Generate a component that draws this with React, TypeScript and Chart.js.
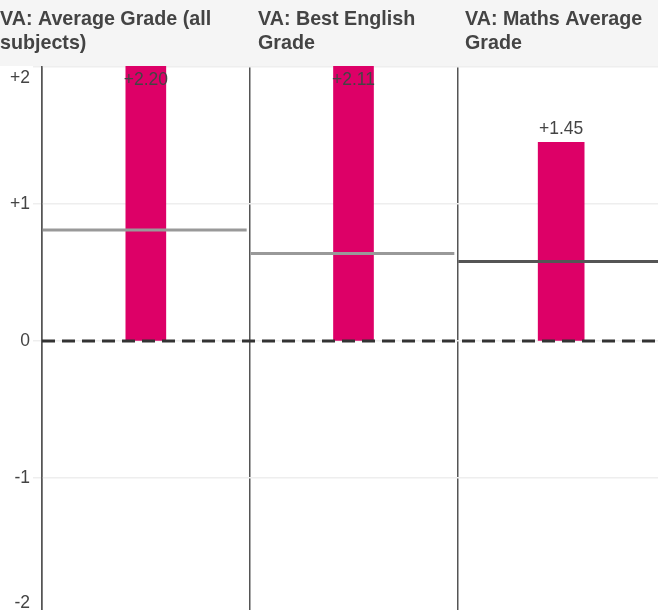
import { useEffect, useRef } from "react";
import { Chart, registerables } from "chart.js";

Chart.register(...registerables);

// ---- data ----
const categories = [
  "VA: Average Grade (all subjects)",
  "VA: Best English Grade",
  "VA: Maths Average Grade",
];
const titleLines = [
  ["VA: Average Grade (all", "subjects)"],
  ["VA: Best English", "Grade"],
  ["VA: Maths Average", "Grade"],
];
const schoolValues = [2.2, 2.11, 1.45];
const comparisonValues = [0.81, 0.64, 0.58];
const yTicks = [-2, -1, 0, 1, 2];

// ---- style ----
const FONT = '"Liberation Sans", Arial, Helvetica, sans-serif';
const HEADER_H = 66;
const BAR_COLOR = "#dd0067";
const TEXT_COLOR = "#444";
const barWidths = [40, 40, 46];
const lineColors = ["#999", "#999", "#555"];
const titleX = [0, 258, 465];

const fmt = (v: number) => (v > 0 ? "+" : "") + (v === 0 ? "0" : Number.isInteger(v) ? String(v) : v.toFixed(2));

export default function App() {
  const ref = useRef<HTMLCanvasElement>(null);

  useEffect(() => {
    const canvas = ref.current!;
    const plugin = {
      id: "vaCustom",
      beforeDatasetsDraw(chart: any) {
        const meta = chart.getDatasetMeta(0);
        meta.data.forEach((el: any, i: number) => {
          el.width = barWidths[i];
        });
      },
      afterDatasetsDraw(chart: any) {
        const ctx = chart.ctx as CanvasRenderingContext2D;
        const xs = chart.scales.x;
        const ys = chart.scales.y;
        const area = chart.chartArea;
        // comparison lines
        comparisonValues.forEach((v, i) => {
          const left = xs.getPixelForValue(i - 0.5);
          const right = xs.getPixelForValue(i + 0.5);
          const py = ys.getPixelForValue(v);
          ctx.save();
          ctx.strokeStyle = lineColors[i];
          ctx.lineWidth = 3;
          ctx.beginPath();
          ctx.moveTo(left + 1, py);
          ctx.lineTo(right - 3, py);
          ctx.stroke();
          ctx.restore();
        });
        // zero line
        const y0 = ys.getPixelForValue(0);
        ctx.save();
        ctx.setLineDash([13, 7]);
        ctx.strokeStyle = "#333";
        ctx.lineWidth = 3;
        ctx.beginPath();
        ctx.moveTo(area.left, y0);
        ctx.lineTo(area.right, y0);
        ctx.stroke();
        ctx.restore();
        // data labels
        const meta = chart.getDatasetMeta(0);
        ctx.save();
        ctx.font = `17.5px ${FONT}`;
        ctx.fillStyle = TEXT_COLOR;
        ctx.textAlign = "center";
        ctx.textBaseline = "middle";
        meta.data.forEach((el: any, i: number) => {
          const ly = Math.max(el.y - 13.5, HEADER_H + 14);
          ctx.fillText(fmt(schoolValues[i]), el.x, ly);
        });
        ctx.restore();
      },
      afterDraw(chart: any) {
        const ctx = chart.ctx as CanvasRenderingContext2D;
        const ys = chart.scales.y;
        ctx.save();
        // header band
        ctx.fillStyle = "#f5f5f5";
        ctx.fillRect(0, 0, chart.width, HEADER_H);
        ctx.fillStyle = TEXT_COLOR;
        ctx.font = `bold 19.7px ${FONT}`;
        ctx.textAlign = "left";
        ctx.textBaseline = "alphabetic";
        titleLines.forEach((lines, i) => {
          lines.forEach((line, j) => {
            ctx.fillText(line, titleX[i], 25 + j * 24);
          });
        });
        // y tick labels
        ctx.font = `17.5px ${FONT}`;
        ctx.textAlign = "right";
        ctx.textBaseline = "middle";
        yTicks.forEach((v) => {
          let py = ys.getPixelForValue(v);
          py = Math.min(Math.max(py, 78), 603);
          ctx.fillText(fmt(v), 30, py);
        });
        ctx.restore();
      },
    };

    const chart = new Chart(canvas, {
      type: "bar",
      data: {
        labels: categories,
        datasets: [
          {
            label: "School VA",
            data: schoolValues,
            backgroundColor: BAR_COLOR,
            barThickness: 40,
          },
        ],
      },
      options: {
        responsive: false,
        animation: false,
        devicePixelRatio: 1,
        layout: { padding: { left: 33, top: 0, right: 0, bottom: 0 } },
        plugins: { legend: { display: false }, tooltip: { enabled: false } },
        scales: {
          x: {
            type: "category",
            offset: true,
            grid: { offset: true, color: "#555", lineWidth: 1.5, drawTicks: false },
            ticks: { display: false },
            border: { display: false },
          },
          y: {
            min: -2,
            max: 2.49,
            afterBuildTicks: (s: any) => {
              s.ticks = yTicks.map((v) => ({ value: v }));
            },
            ticks: { display: false },
            grid: { color: "#eeeeee", lineWidth: 1.5, tickLength: 9 },
            border: { color: "#555", width: 1.5 },
          },
        },
      },
      plugins: [plugin],
    } as any);
    return () => chart.destroy();
  }, []);

  return (
    <div style={{ position: "absolute", left: 0, top: 0, width: 658, height: 610, overflow: "hidden", background: "#fff" }}>
      <canvas ref={ref} width={665} height={615} style={{ display: "block" }} />
    </div>
  );
}
